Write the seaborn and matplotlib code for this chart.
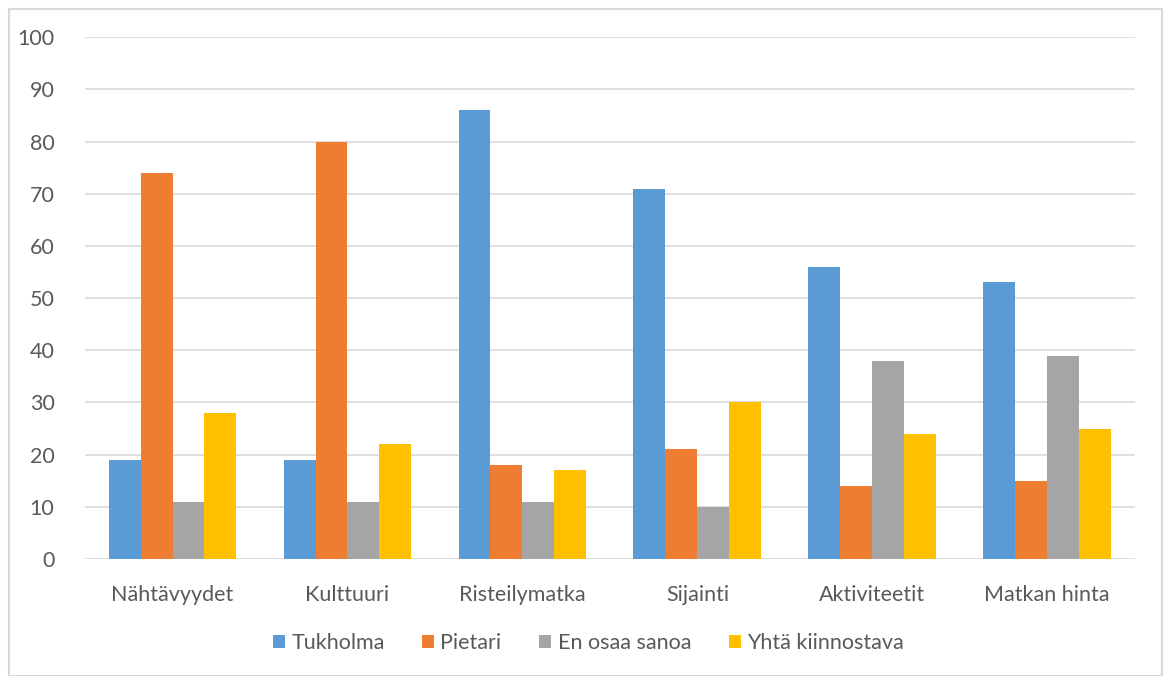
import pandas as pd
import seaborn as sns
import matplotlib.pyplot as plt
from matplotlib.patches import Rectangle

# data
categories = ["Nähtävyydet", "Kulttuuri", "Risteilymatka", "Sijainti", "Aktiviteetit", "Matkan hinta"]
series_names = ["Tukholma", "Pietari", "En osaa sanoa", "Yhtä kiinnostava"]
tukholma = [19, 19, 86, 71, 56, 53]
pietari = [74, 80, 18, 21, 14, 15]
en_osaa = [11, 11, 11, 10, 38, 39]
yhta = [28, 22, 17, 30, 24, 25]
colors = ["#5B9BD5", "#ED7D31", "#A5A5A5", "#FFC000"]

rows = []
for name, vals in zip(series_names, [tukholma, pietari, en_osaa, yhta]):
    for cat, v in zip(categories, vals):
        rows.append({"kategoria": cat, "sarja": name, "arvo": v})
df = pd.DataFrame(rows)

sns.set_style("white")
plt.rcParams["font.family"] = ["Lato", "DejaVu Sans"]
text_col = "#595959"
fs = 15.5

fig = plt.figure(figsize=(11.65, 6.76), dpi=100)
ax = fig.add_axes([0.073, 0.173, 0.901, 0.772])

sns.barplot(data=df, x="kategoria", y="arvo", hue="sarja", order=categories,
            hue_order=series_names, palette=colors, width=0.73, gap=0,
            saturation=1, linewidth=0, ax=ax, legend=True)

ax.set_ylim(0, 100)
ax.set_yticks(range(0, 101, 10))
ax.set_xlim(-0.5, len(categories) - 0.5)
ax.yaxis.grid(True, color="#D9D9D9", linewidth=1.2)
ax.set_axisbelow(True)
for s in ax.spines.values():
    s.set_visible(False)
ax.set_xlabel("")
ax.set_ylabel("")
ax.tick_params(axis="both", length=0, labelsize=fs, colors=text_col)
ax.tick_params(axis="x", pad=19)
ax.tick_params(axis="y", pad=22)

handles, labels = ax.get_legend_handles_labels()
ax.get_legend().remove()
fig.legend(handles, labels, loc="center", bbox_to_anchor=(0.505, 0.049), ncol=4,
           frameon=False, fontsize=fs, labelcolor=text_col, handlelength=0.55,
           handleheight=0.55, handletextpad=0.3, columnspacing=1.75)

fig.patches.append(Rectangle((9 / 1165, 0.0), 1153 / 1165, 1 - 9 / 676,
                             transform=fig.transFigure, fill=False,
                             edgecolor="#D9D9D9", linewidth=1.5))

fig.savefig("out.png", dpi=100)
